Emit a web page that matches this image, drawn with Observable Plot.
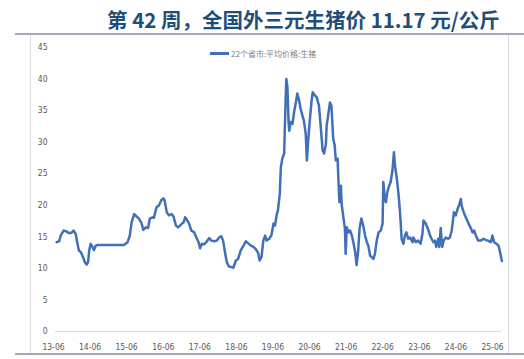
<!DOCTYPE html>
<html>
<head>
<meta charset="utf-8">
<script src="https://cdn.jsdelivr.net/npm/d3@7"></script>
<script src="https://cdn.jsdelivr.net/npm/@observablehq/plot@0.6"></script>
<style>
  html, body { margin: 0; padding: 0; background: #fff; }
  #wrap { position: relative; width: 524px; height: 359px; overflow: hidden; background: #fff; }
  #title { position: absolute; left: 107px; top: 5px; font-family: "Noto Sans CJK SC", "Noto Sans", sans-serif; font-weight: bold; font-size: 20.5px; color: #1f4e79; white-space: nowrap; line-height: 28px; }
  .hline { position: absolute; left: 15px; width: 509px; height: 2px; background: #a3a6cc; }
  .vline { position: absolute; top: 35px; width: 1px; height: 319px; background: #d9d9e0; }
  #chart { position: absolute; left: 0; top: 35px; }
  #legend { position: absolute; left: 210px; top: 48px; display: flex; align-items: center; font-family: "Noto Sans CJK SC", sans-serif; font-size: 8px; color: #808080; white-space: nowrap; }
  #legend .sw { width: 19px; height: 3px; background: #4170b8; margin-right: 2px; }
</style>
</head>
<body>
<div id="wrap">
  <div id="title">第 42 周，全国外三元生猪价 11.17 元/公斤</div>
  <div class="hline" style="top:33px"></div>
  <div class="vline" style="left:30px"></div>
  <div class="vline" style="left:508px"></div>
  <div class="hline" style="top:353px"></div>
  <div id="chart"></div>
  <div id="legend"><div class="sw"></div><span>22个省市:平均价格:生猪</span></div>
</div>
<script>
// Week position as decimal year
const weekYears = [
  2013.50, 2013.57, 2013.61, 2013.69, 2013.75, 2013.84, 2013.90, 2013.96, 2014.02, 2014.07,
  2014.11, 2014.16, 2014.22, 2014.27, 2014.32, 2014.36, 2014.39, 2014.43, 2014.48, 2014.52,
  2014.57, 2014.61, 2015.34, 2015.44, 2015.50, 2015.55, 2015.62, 2015.69, 2015.75, 2015.82,
  2015.87, 2015.94, 2016.00, 2016.05, 2016.12, 2016.16, 2016.23, 2016.30, 2016.36, 2016.42,
  2016.45, 2016.51, 2016.57, 2016.64, 2016.69, 2016.76, 2016.82, 2016.89, 2016.97, 2017.01,
  2017.06, 2017.12, 2017.18, 2017.26, 2017.32, 2017.38, 2017.42, 2017.47, 2017.53, 2017.59,
  2017.67, 2017.73, 2017.80, 2017.88, 2017.94, 2018.00, 2018.05, 2018.10, 2018.15, 2018.21,
  2018.28, 2018.33, 2018.40, 2018.46, 2018.53, 2018.61, 2018.67, 2018.73, 2018.81, 2018.88,
  2018.94, 2019.01, 2019.05, 2019.10, 2019.15, 2019.20, 2019.24, 2019.31, 2019.37, 2019.43,
  2019.47, 2019.52, 2019.55, 2019.60, 2019.63, 2019.67, 2019.72, 2019.74, 2019.76, 2019.78,
  2019.81, 2019.84, 2019.86, 2019.90, 2019.95, 2019.99, 2020.04, 2020.08, 2020.13, 2020.17,
  2020.22, 2020.26, 2020.31, 2020.34, 2020.37, 2020.42, 2020.47, 2020.50, 2020.56, 2020.61,
  2020.67, 2020.72, 2020.77, 2020.81, 2020.86, 2020.88, 2020.92, 2020.97, 2021.01, 2021.06,
  2021.10, 2021.13, 2021.18, 2021.20, 2021.23, 2021.27, 2021.29, 2021.33, 2021.38, 2021.40,
  2021.43, 2021.48, 2021.52, 2021.57, 2021.61, 2021.66, 2021.70, 2021.74, 2021.78, 2021.83,
  2021.88, 2021.93, 2021.98, 2022.02, 2022.07, 2022.11, 2022.16, 2022.20, 2022.25, 2022.30,
  2022.36, 2022.41, 2022.43, 2022.47, 2022.50, 2022.54, 2022.59, 2022.63, 2022.68, 2022.72,
  2022.75, 2022.80, 2022.84, 2022.88, 2022.91, 2022.93, 2022.98, 2023.02, 2023.06, 2023.11,
  2023.16, 2023.23, 2023.25, 2023.32, 2023.38, 2023.45, 2023.50, 2023.53, 2023.59, 2023.65,
  2023.71, 2023.75, 2023.80, 2023.84, 2023.88, 2023.93, 2023.96, 2024.00, 2024.04, 2024.08,
  2024.14, 2024.20, 2024.25, 2024.30, 2024.34, 2024.36, 2024.41, 2024.46, 2024.50, 2024.55,
  2024.57, 2024.61, 2024.66, 2024.70, 2024.76, 2024.82, 2024.87, 2024.91, 2024.96, 2025.02,
  2025.09, 2025.17, 2025.23, 2025.29, 2025.37, 2025.41, 2025.46, 2025.52, 2025.58, 2025.62,
  2025.67
];
// 22个省市:平均价格:生猪 (元/公斤)
const prices = [
  14.15, 14.3, 15.2, 16.0, 15.9, 15.6, 15.6, 16.0, 15.5, 13.9,
  12.8, 12.6, 11.8, 11.0, 10.6, 11.0, 12.8, 13.9, 13.4, 12.9,
  13.6, 13.7, 13.7, 14.15, 15.2, 17.3, 18.6, 18.2, 17.9, 17.2,
  16.1, 16.5, 16.4, 17.9, 18.1, 18.0, 19.7, 20.0, 20.8, 21.1,
  20.8, 18.9, 18.4, 18.6, 18.3, 16.8, 16.5, 16.9, 17.3, 18.1,
  17.7, 17.1, 16.0, 15.7, 14.9, 14.15, 13.2, 13.9, 13.8, 14.15,
  14.8, 14.4, 14.3, 14.4, 14.9, 15.1, 14.4, 12.6, 11.0, 10.3,
  10.2, 10.1, 11.25, 11.5, 12.8, 13.6, 14.3, 14.0, 13.6, 13.4,
  13.1, 12.4, 11.25, 11.8, 14.4, 15.2, 14.4, 14.7, 15.2, 17.1,
  16.8, 18.6, 19.2, 21.8, 26.0, 27.4, 28.2, 32.4, 36.6, 40.0,
  38.7, 33.4, 31.8, 33.2, 32.9, 34.7, 36.3, 37.7, 36.6, 35.3,
  34.2, 33.4, 31.3, 27.1, 29.7, 33.4, 36.6, 37.9, 37.4, 37.1,
  35.8, 32.4, 28.7, 28.2, 29.7, 32.6, 34.2, 36.3, 35.8, 30.5,
  29.5, 27.1, 27.4, 24.2, 20.5, 23.1, 20.2, 18.4, 16.3, 12.3,
  16.5, 15.7, 16.0, 15.2, 14.15, 12.6, 10.5, 12.6, 16.3, 17.9,
  16.8, 15.2, 14.15, 13.6, 12.0, 11.8, 11.5, 12.3, 14.4, 15.7,
  16.0, 17.1, 23.7, 21.0, 20.5, 22.1, 23.1, 23.7, 25.5, 28.4,
  26.3, 24.2, 22.1, 19.4, 16.8, 14.7, 13.9, 15.2, 15.7, 14.7,
  14.9, 14.15, 14.9, 14.15, 14.4, 13.9, 15.5, 17.6, 17.1, 16.3,
  15.2, 14.7, 14.15, 14.4, 13.4, 14.7, 13.4, 16.4, 13.4, 14.4,
  14.9, 14.7, 14.9, 16.0, 17.9, 18.9, 18.4, 19.4, 20.0, 21.0,
  20.0, 19.2, 18.4, 17.9, 17.1, 16.4, 15.7, 16.0, 15.2, 14.4,
  14.4, 14.7, 14.5, 14.4, 14.15, 15.2, 14.15, 13.9, 13.6, 12.6,
  11.17
];
const tickDates = ["2013-06-01","2014-06-01","2015-06-01","2016-06-01","2017-06-01","2018-06-01","2019-06-01","2020-06-01","2021-06-01","2022-06-01","2023-06-01","2024-06-01","2025-06-01"];
const tickLabels = ["13-06","14-06","15-06","16-06","17-06","18-06","19-06","20-06","21-06","22-06","23-06","24-06","25-06"];
const yTicks = [0, 5, 10, 15, 20, 25, 30, 35, 40, 45];

function yearToDate(yr) {
  const y = Math.floor(yr);
  const start = Date.UTC(y, 0, 1), end = Date.UTC(y + 1, 0, 1);
  return new Date(start + (yr - y) * (end - start));
}
const data = weekYears.map((w, i) => ({date: yearToDate(w), price: prices[i]}));
const ticks = tickDates.map(s => new Date(s));

const chart = Plot.plot({
  width: 524,
  height: 324,
  marginLeft: 55,
  marginRight: 23,
  marginTop: 12,
  marginBottom: 28,
  x: {type: "utc", domain: [ticks[0], ticks[ticks.length - 1]], range: [53, 492]},
  y: {domain: [0, 45]},
  style: {fontFamily: '"Liberation Sans Narrow", "DejaVu Sans Condensed", sans-serif', fontSize: "8.5px", color: "#595959", background: "transparent"},
  marks: [
    Plot.ruleY([0], {stroke: "#d9d9d9", strokeWidth: 1}),
    Plot.axisY(yTicks, {anchor: "left", tickSize: 0, tickPadding: 8, label: null, tickFormat: d => String(d)}),
    Plot.axisX(ticks, {anchor: "bottom", tickSize: 0, tickPadding: 12, label: null, tickFormat: (d, i) => tickLabels[i]}),
    Plot.line(data, {x: "date", y: "price", stroke: "#4170b8", strokeWidth: 2.5, strokeLinejoin: "round"})
  ]
});
document.getElementById("chart").appendChild(chart);
</script>
</body>
</html>
